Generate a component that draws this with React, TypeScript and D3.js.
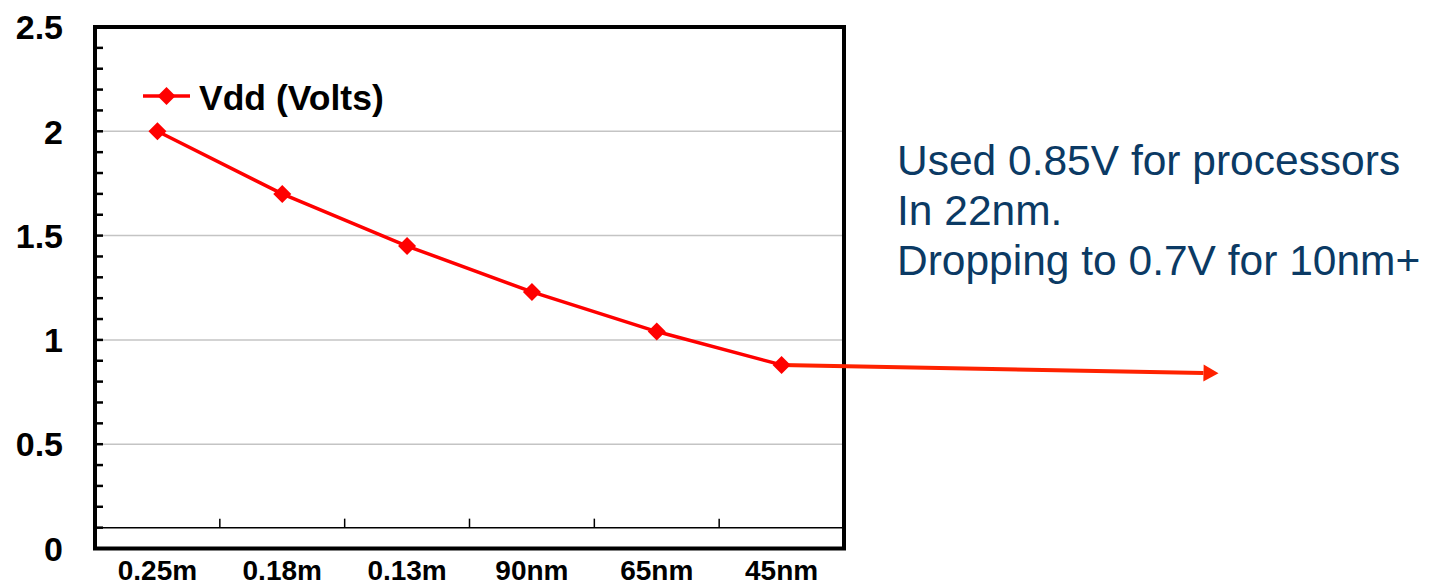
import React from "react";
import * as d3 from "d3";

// Process nodes along the horizontal axis
const nodes: string[] = ["0.25m", "0.18m", "0.13m", "90nm", "65nm", "45nm"];
// Supply voltage per node
const vdd: number[] = [2.0, 1.7, 1.45, 1.23, 1.04, 0.88];
// Projected trend beyond the last node
const projectionValue = 0.84;
const projectionSteps = 3.5;
// Value axis labels
const yTickValues: number[] = [0, 0.5, 1, 1.5, 2, 2.5];
const yTickLabels: string[] = ["0", "0.5", "1", "1.5", "2", "2.5"];
const seriesName = "Vdd (Volts)";
const noteLines: string[] = [
  "Used 0.85V for processors",
  "In 22nm.",
  "Dropping to 0.7V for 10nm+",
];

const W = 1439;
const H = 583;
const FONT = "'Liberation Sans', Arial, Helvetica, sans-serif";

export default function App() {
  const left = 95;
  const right = 844;
  const top = 27;
  const bottom = 548.5;

  const x = d3.scaleBand<string>().domain(nodes).range([left, right]).padding(0);
  const y = d3.scaleLinear().domain([0, 2.5]).range([bottom, top]);
  const cx = (i: number) => (x(nodes[i]) as number) + x.bandwidth() / 2;

  const minorTicks = d3.range(0, 26).map((k) => k / 10);
  const gridValues = yTickValues.filter((v) => v > 0 && v < 2.5);
  const axisCross = 0.1;
  const boundaries = d3.range(1, nodes.length).map((i) => left + i * x.bandwidth());

  const line = d3
    .line<number>()
    .x((_, i) => cx(i))
    .y((d) => y(d));

  const lastIdx = vdd.length - 1;
  const projX = cx(lastIdx) + projectionSteps * x.bandwidth();
  const projY = y(projectionValue);
  const startX = cx(lastIdx);
  const startY = y(vdd[lastIdx]);
  const headLen = 15;
  const headHalf = 8.5;
  const ang = Math.atan2(projY - startY, projX - startX);
  const bx = projX - headLen * Math.cos(ang);
  const by = projY - headLen * Math.sin(ang);
  const head = [
    [projX, projY],
    [bx - headHalf * Math.sin(ang), by + headHalf * Math.cos(ang)],
    [bx + headHalf * Math.sin(ang), by - headHalf * Math.cos(ang)],
  ];

  const diamond = (px: number, py: number, r: number) =>
    `M${px},${py - r}L${px + r},${py}L${px},${py + r}L${px - r},${py}Z`;

  return (
    <svg
      width={W}
      height={H}
      style={{ position: "absolute", left: 0, top: 0, background: "#fff" }}
      fontFamily={FONT}
    >
      {/* horizontal gridlines */}
      {gridValues.map((v) => (
        <line key={`g${v}`} x1={left} x2={right} y1={y(v)} y2={y(v)} stroke="#c4c4c4" strokeWidth={1.5} />
      ))}

      {/* category axis with boundary ticks */}
      <line x1={left} x2={right} y1={y(axisCross)} y2={y(axisCross)} stroke="#000" strokeWidth={1.5} />
      {boundaries.map((bx0, i) => (
        <line key={`b${i}`} x1={bx0} x2={bx0} y1={y(axisCross)} y2={y(axisCross) - 9} stroke="#000" strokeWidth={1.5} />
      ))}

      {/* minor ticks on value axis */}
      {minorTicks.map((v) => (
        <line key={`m${v}`} x1={left} x2={left + 8} y1={y(v)} y2={y(v)} stroke="#000" strokeWidth={2.5} />
      ))}

      {/* plot frame */}
      <rect x={left} y={top} width={right - left} height={bottom - top} fill="none" stroke="#000" strokeWidth={4} />

      {/* value labels */}
      {yTickValues.map((v, i) => (
        <text
          key={`yl${v}`}
          x={63}
          y={y(v)}
          dy="0.36em"
          textAnchor="end"
          fontSize={34}
          fontWeight="bold"
          fill="#000"
        >
          {yTickLabels[i]}
        </text>
      ))}

      {/* category labels */}
      {nodes.map((n, i) => (
        <text key={`xl${n}`} x={cx(i)} y={580} textAnchor="middle" fontSize={28} fontWeight="bold" fill="#000">
          {n}
        </text>
      ))}

      {/* projection arrow */}
      <line x1={startX} y1={startY} x2={bx} y2={by} stroke="#ff2200" strokeWidth={4} />
      <polygon points={head.map((p) => p.join(",")).join(" ")} fill="#ff2200" />

      {/* series line and markers */}
      <path d={line(vdd) as string} fill="none" stroke="#ff0000" strokeWidth={3.5} />
      {vdd.map((v, i) => (
        <path key={`d${i}`} d={diamond(cx(i), y(v), 9)} fill="#ff0000" />
      ))}

      {/* legend */}
      <line x1={143} x2={190} y1={96} y2={96} stroke="#ff0000" strokeWidth={3.5} />
      <path d={diamond(166.5, 96, 9)} fill="#ff0000" />
      <text x={199} y={110} fontSize={35.5} fontWeight="bold" fill="#000">
        {seriesName}
      </text>

      {/* annotation */}
      {noteLines.map((t, i) => (
        <text key={`n${i}`} x={897} y={175 + i * 50} fontSize={42.5} fill="#0b3a64">
          {t}
        </text>
      ))}
    </svg>
  );
}
